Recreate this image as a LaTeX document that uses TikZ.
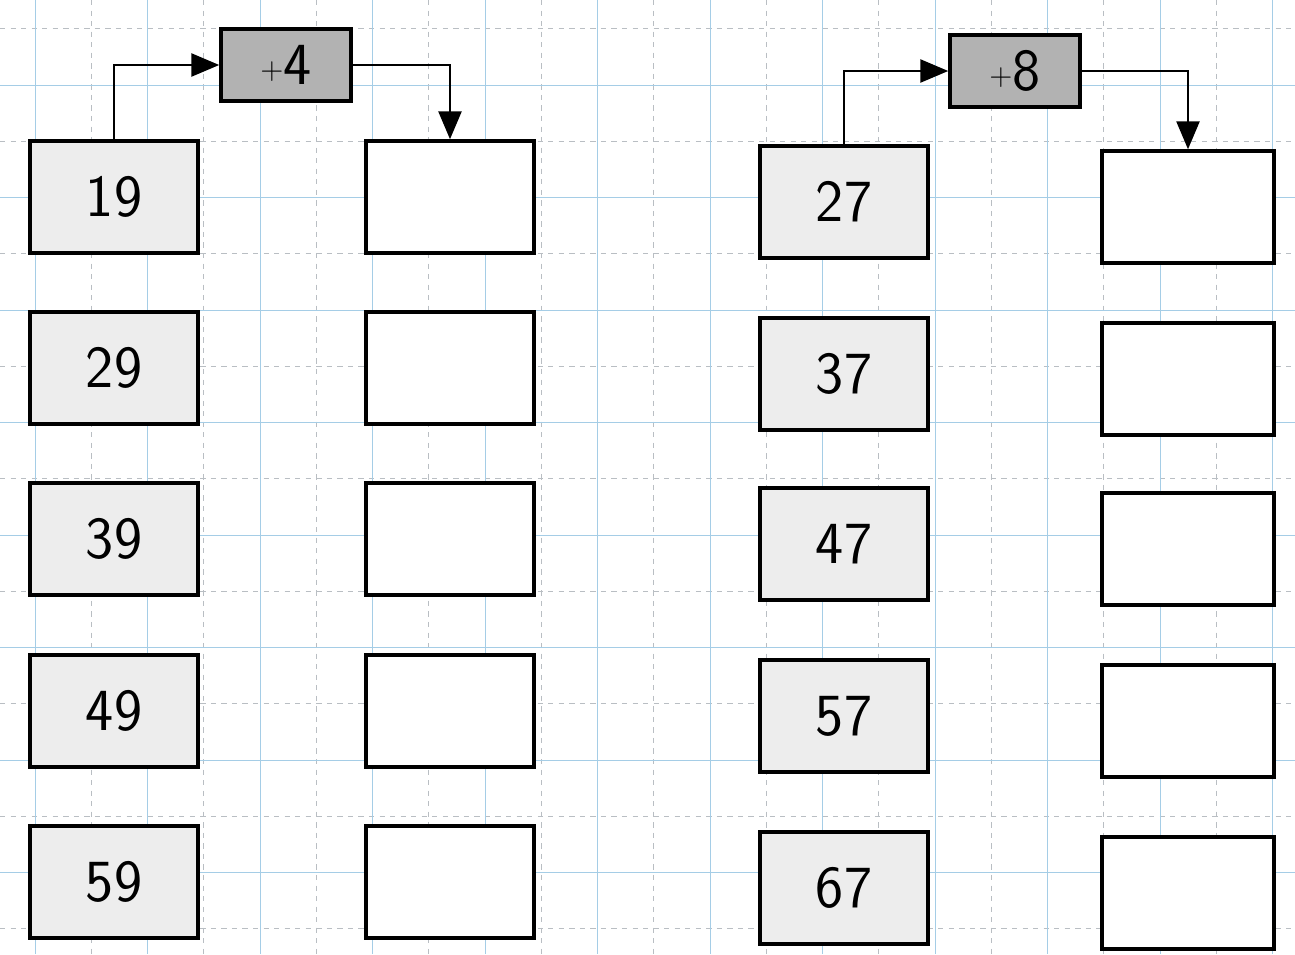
\documentclass[tikz,border=0pt]{standalone}
\usepackage{tikz}
\usetikzlibrary{positioning,arrows.meta}
\definecolor{gridblue}{RGB}{165,205,230}
\definecolor{gridgray}{RGB}{185,190,195}

\begin{document}
\begin{tikzpicture}[
  x=0.02cm, y=-0.02cm,
  >={Triangle[length=5.6mm,width=4.6mm]},
  numbox/.style={draw, rectangle, line width=2pt, minimum width=33.6mm,
                 minimum height=22.4mm, inner sep=0pt, fill=black!7,
                 font=\fontsize{34}{40}\selectfont\sffamily},
  ansbox/.style={draw, rectangle, line width=2pt, minimum width=33.6mm,
                 minimum height=22.4mm, inner sep=0pt, fill=white},
  opbox/.style={draw, rectangle, line width=2pt, minimum width=26mm,
                minimum height=14.4mm, inner sep=0pt, fill=black!30,
                font=\fontsize{34}{40}\selectfont\sffamily},
  link/.style={->, line width=1.5pt}
]
\useasboundingbox (0,0) rectangle (1295,954);
\fill[white] (0,0) rectangle (1295,954);

% ---- Squared paper ----
\foreach \gx in {91,203.5,...,1295}
  \draw[gridgray, very thin, dashed] (\gx,0) -- (\gx,954);
\foreach \gy in {28.5,141,...,954}
  \draw[gridgray, very thin, dashed] (0,\gy) -- (1295,\gy);
\foreach \gx in {35,147.5,...,1295}
  \draw[gridblue, thin] (\gx,0) -- (\gx,954);
\foreach \gy in {85,197.5,...,954}
  \draw[gridblue, thin] (0,\gy) -- (1295,\gy);

% ---- Column positions ----
\def\xA{114}     % left numbers
\def\xB{450}     % left answers
\def\xC{844}     % right numbers
\def\xD{1188}    % right answers

% ---- Operators ----
\node[opbox] (op4) at (286,65) {\raisebox{3pt}{\fontsize{18}{18}\selectfont+}4};
\node[opbox] (op8) at (1015,71) {\raisebox{3pt}{\fontsize{18}{18}\selectfont+}8};

% ---- Rows ----
\foreach \a/\b/\yl/\yr in {19/27/197/202, 29/37/368/374, 39/47/539/544,
                           49/57/711/716, 59/67/882/888}{
  \node[numbox] (n\a) at (\xA,\yl) {\a};
  \node[ansbox] (a\a) at (\xB,\yl) {};
  \node[numbox] (n\b) at (\xC,\yr) {\b};
  \node[ansbox, minimum width=34.4mm] (a\b) at (\xD,\yr+5) {};
}

% ---- Arrows ----
\draw[link] (n19.north) |- (op4.west);
\draw[link] (op4.east) -| (a19.north);
\draw[link] (n27.north) |- (op8.west);
\draw[link] (op8.east) -| (a27.north);

\end{tikzpicture}
\end{document}
